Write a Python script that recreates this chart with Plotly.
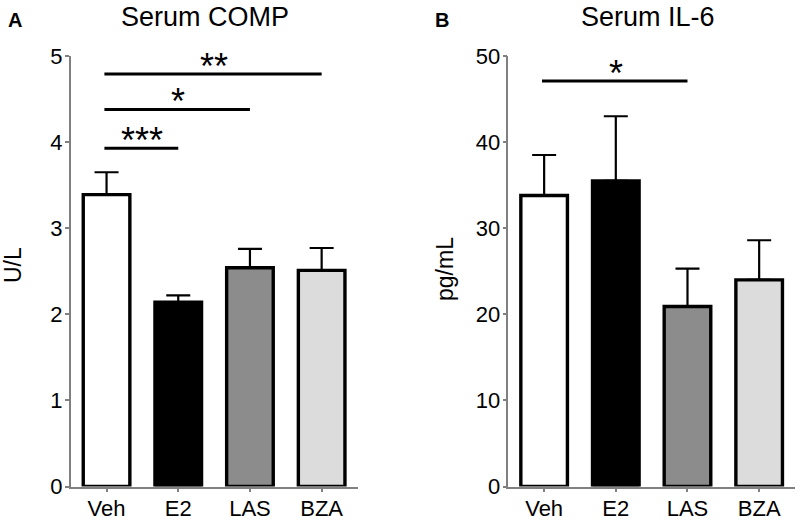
import plotly.graph_objects as go

categories = ["Veh", "E2", "LAS", "BZA"]
bar_colors = ["#ffffff", "#000000", "#8c8c8c", "#dcdcdc"]

comp_mean = [3.39, 2.14, 2.54, 2.51]
comp_err = [0.26, 0.08, 0.22, 0.26]
comp_ticks = [0, 1, 2, 3, 4, 5]

il6_mean = [33.8, 35.5, 20.9, 24.0]
il6_err = [4.7, 7.5, 4.4, 4.6]
il6_ticks = [0, 10, 20, 30, 40, 50]

# significance brackets: (from index, to index, height, label)
comp_sig = [(0, 1, 3.93, "***"), (0, 2, 4.38, "*"), (0, 3, 4.79, "**")]
il6_sig = [(0, 2, 47.1, "*")]

FONT = "Liberation Sans, Arial, Helvetica, sans-serif"
AXC = "#808080"

fig = go.Figure()

def add_panel(xa, ya, means, errs):
    fig.add_trace(go.Bar(
        x=categories, y=means, xaxis=xa, yaxis=ya,
        width=0.65,
        marker=dict(color=bar_colors, line=dict(color="black", width=3.4)),
        error_y=dict(type="data", symmetric=False, array=errs,
                     arrayminus=[0] * len(errs), color="black",
                     thickness=2.2, width=12),
        showlegend=False,
    ))

add_panel("x", "y", comp_mean, comp_err)
add_panel("x2", "y2", il6_mean, il6_err)

def add_sig(xref, yref, sigs):
    for a, b, h, lab in sigs:
        fig.add_shape(type="line", xref=xref, yref=yref,
                      x0=a - 0.03, x1=b, y0=h, y1=h,
                      line=dict(color="black", width=3))
        fig.add_annotation(xref=xref, yref=yref, x=(a + b) / 2, y=h,
                           text=lab, showarrow=False, yanchor="bottom",
                           yshift=-15,
                           font=dict(family=FONT, size=36, color="black"))

add_sig("x", "y", comp_sig)
add_sig("x2", "y2", il6_sig)

axis_common = dict(showline=True, linecolor=AXC, linewidth=1.5,
                   ticks="outside", tickcolor=AXC, ticklen=4, tickwidth=1.5,
                   showgrid=False, zeroline=False, automargin=False,
                   tickfont=dict(family=FONT, size=22, color="black"))
x_extra = dict(ticklabelstandoff=-3)
y_extra = dict(ticklabelstandoff=-2)

ybot = 1 - 486.5 / 521
ytop = 1 - 56 / 521

fig.update_layout(
    width=800, height=521,
    margin=dict(l=0, r=0, t=0, b=0, autoexpand=False),
    paper_bgcolor="white", plot_bgcolor="white",
    bargap=0.3,
    xaxis=dict(domain=[70.7 / 800, 357.5 / 800], range=[-0.5, 3.5],
               anchor="y", **axis_common, **x_extra),
    yaxis=dict(domain=[ybot, ytop], range=[0, 5], tickvals=comp_ticks,
               anchor="x", **axis_common, **y_extra),
    xaxis2=dict(domain=[508.3 / 800, 795 / 800], range=[-0.5, 3.5],
                anchor="y2", **axis_common, **x_extra),
    yaxis2=dict(domain=[ybot, ytop], range=[0, 50], tickvals=il6_ticks,
                anchor="x2", **axis_common, **y_extra),
)

texts = [
    (205 / 800, 1 - 17 / 521, "Serum COMP", 27, 0),
    (648 / 800, 1 - 17 / 521, "Serum IL-6", 27, 0),
    (15 / 800, 1 - 20 / 521, "<b>A</b>", 20, 0),
    (441.7 / 800, 1 - 20 / 521, "<b>B</b>", 20, 0),
    (13 / 800, 1 - 265 / 521, "U/L", 23, -90),
    (445 / 800, 1 - 269 / 521, "pg/mL", 23, -90),
]
for x, y, t, s, ang in texts:
    fig.add_annotation(xref="paper", yref="paper", x=x, y=y, text=t,
                       showarrow=False, xanchor="center", yanchor="middle",
                       textangle=ang,
                       font=dict(family=FONT, size=s, color="black"))

fig.write_html(
    "out.html",
    config={"displayModeBar": False},
    post_script="document.body.style.margin='0';document.body.style.overflow='hidden';",
)
